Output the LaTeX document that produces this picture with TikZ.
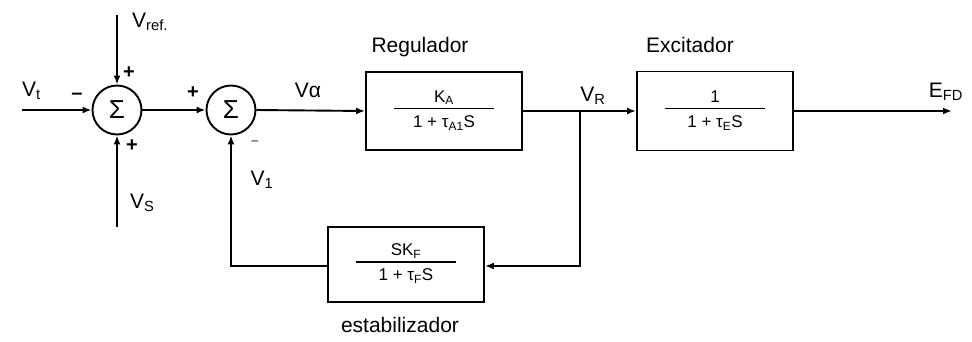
\documentclass[tikz,border=0pt]{standalone}
\usepackage{fontspec}
\setmainfont{Liberation Sans}
\usetikzlibrary{arrows.meta}
\newcommand\frc[2]{\setlength{\arrayrulewidth}{1.6pt}\begin{tabular}{@{}c@{}}\rule[-5pt]{0pt}{15pt}#1\\\hline\rule{0pt}{18pt}\makebox[100pt]{#2}\end{tabular}}
\begin{document}
\begin{tikzpicture}[x=1pt,y=-1pt,
  wire/.style={line width=1.9pt},
  sig/.style={wire,-{Latex[length=9pt,width=7pt]}},
  sumnode/.style={circle,draw,line width=1.9pt,minimum size=49pt,inner sep=0pt,font=\fontsize{26}{28}\selectfont},
  blk/.style={draw,line width=1.9pt,minimum width=156pt,inner sep=0pt,font=\fontsize{17}{19}\selectfont},
  lbl/.style={font=\fontsize{21}{23}\selectfont,inner sep=1pt},
  sgn/.style={font=\fontsize{20}{20}\selectfont\bfseries,inner sep=0pt}]
\useasboundingbox (0,0) rectangle (972,341);
% nodes
\node[sumnode] (s1) at (117,110) {Σ};
\node[sumnode] (s2) at (231,110) {Σ};
\node[blk,minimum height=78pt] (reg) at (444,111) {\frc{K\textsubscript{A}}{1 + τ\textsubscript{A1}S}};
\node[blk,minimum height=79pt] (exc) at (715,111) {\frc{1}{1 + τ\textsubscript{E}S}};
\node[blk,minimum height=75pt] (stab) at (406,264.5) {\frc{SK\textsubscript{F}}{1 + τ\textsubscript{F}S}};
\coordinate (vt) at (22,110);
\coordinate (vref) at (117,15);
\coordinate (vs) at (117,227);
\coordinate (j) at (580,111);
\coordinate (out) at (952,111);
\coordinate (fb1) at (580,266);
\coordinate (fb2) at (231,266);
% connectors
\draw[sig] (vt) -- (s1.west);
\draw[sig] (vref) -- (s1.north);
\draw[sig] (vs) -- (s1.south);
\draw[sig] (s1.east) -- (s2.west);
\draw[sig] (s2.east) -- (reg.west);
\draw[wire] (reg.east) -- (j);
\draw[sig] (j) -- (exc.west);
\draw[sig] (exc.east) -- (out);
\draw[sig] (j) -- (fb1) -- (stab.east |- fb1);
\draw[sig] (stab.west |- fb2) -- (fb2) -- (s2.south);
% labels
\node[lbl,anchor=west] (lvt) at (21,91) {V\textsubscript{t}};
\node[lbl,anchor=west] (lvref) at (131,22) {V\textsubscript{ref.}};
\node[lbl,anchor=west] (lvs) at (129,203) {V\textsubscript{S}};
\node[lbl] (lva) at (308,90) {Vα};
\node[lbl] (lv1) at (262,180) {V\textsubscript{1}};
\node[lbl] (lvr) at (593,96) {V\textsubscript{R}};
\node[lbl] (lefd) at (946,92) {E\textsubscript{FD}};
\node[lbl] (lreg) at (420,47) {Regulador};
\node[lbl] (lexc) at (690,45) {Excitador};
\node[lbl] (lstab) at (400,325) {estabilizador};
\node[sgn] (m1) at (77,96) {–};
\node[sgn] (p1) at (129,73) {+};
\node[sgn] (p2) at (132,146) {+};
\node[sgn] (p3) at (193,93) {+};
\node[sgn,font=\fontsize{12}{12}\selectfont] (m2) at (255,143) {–};
\end{tikzpicture}
\end{document}
